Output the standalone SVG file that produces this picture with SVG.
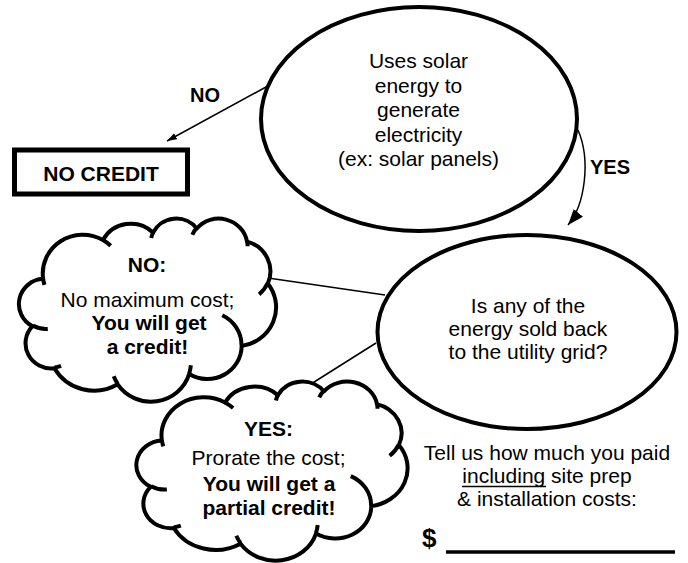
<svg xmlns="http://www.w3.org/2000/svg" width="688" height="563" viewBox="0 0 688 563">
  <defs>
    <style>
      text { font-family: "Liberation Sans", Arial, sans-serif; font-size: 21px; fill: #000; text-anchor: middle; }
      .b { font-weight: bold; }
      .label { font-weight: bold; font-size: 20px; }
      .dollar { font-weight: bold; font-size: 26px; text-anchor: start; }
      .shape { fill: #fff; stroke: #000; stroke-width: 4; }
      .cloud { fill: #fff; stroke: #000; stroke-width: 4; vector-effect: non-scaling-stroke; stroke-linejoin: round; }
      .cloud-inner { fill: none; stroke: #000; stroke-width: 4; vector-effect: non-scaling-stroke; }
      .edge { fill: none; stroke: #000; stroke-width: 1.5; }
    </style>
    <marker id="head-small" viewBox="0 0 10 7" refX="10" refY="3.5" markerWidth="10" markerHeight="7" markerUnits="userSpaceOnUse" orient="auto">
      <path d="M0,0 L10,3.5 L0,7 Z" fill="#000"/>
    </marker>
    <marker id="head-large" viewBox="0 0 16 12" refX="16" refY="6" markerWidth="16" markerHeight="12" markerUnits="userSpaceOnUse" orient="auto">
      <path d="M0,0 L16,6 L0,12 Z" fill="#000"/>
    </marker>
  </defs>

  <rect width="688" height="563" fill="#fff"/>

  <!-- connectors -->
  <g id="connectors">
    <path class="edge" d="M266,87 L167,141" marker-end="url(#head-small)"/>
    <path class="edge" d="M578,130 C591,160 585,205 568,225" marker-end="url(#head-large)"/>
    <line class="edge" x1="268" y1="278" x2="385" y2="295"/>
    <line class="edge" x1="311" y1="384" x2="376" y2="343"/>
    <text class="label" x="205" y="102">NO</text>
    <text class="label" x="610" y="174">YES</text>
  </g>

  <!-- question: solar energy -->
  <g id="node-solar">
    <ellipse class="shape" cx="419" cy="119" rx="158" ry="112"/>
    <text x="418.5" y="68">Uses solar</text>
    <text x="418.5" y="92.5">energy to</text>
    <text x="418.5" y="117">generate</text>
    <text x="418.5" y="141.5">electricity</text>
    <text x="418.5" y="166">(ex: solar panels)</text>
  </g>

  <!-- outcome: no credit -->
  <g id="node-no-credit">
    <rect x="14.5" y="150" width="173" height="44" fill="#fff" stroke="#000" stroke-width="5"/>
    <text class="b" x="101" y="180.5">NO CREDIT</text>
  </g>

  <!-- outcome cloud: full credit -->
  <g id="node-full-credit">
    <g transform="translate(20,218) scale(256,183)">
      <path class="cloud" d="M0.0903,0.3326 A0.1563,0.2127 0 0 1 0.3242,0.1204 A0.1235,0.1682 0 0 1 0.5198,0.0794 A0.1010,0.1376 0 0 1 0.6906,0.0574 A0.1124,0.1527 0 0 1 0.8870,0.1290 A0.1235,0.1684 0 0 1 0.9680,0.3578 A0.1568,0.2134 0 0 1 0.8658,0.6990 A0.1339,0.1821 0 0 1 0.6610,0.8521 A0.1563,0.2133 0 0 1 0.3815,0.9088 A0.1787,0.2441 0 0 1 0.1344,0.8210 A0.1009,0.1370 0 0 1 0.0489,0.5913 A0.1006,0.1376 0 0 1 0.0903,0.3326 Z"/>
      <path class="cloud-inner" d="M0.1086,0.6060 A0.1006,0.1376 0 0 1 0.0500,0.5875 M0.1604,0.8079 A0.1009,0.1370 0 0 1 0.1347,0.8167 M0.3814,0.9049 A0.1563,0.2133 0 0 1 0.3660,0.8646 M0.6673,0.8044 A0.1563,0.2133 0 0 1 0.6611,0.8486 M0.7900,0.5313 A0.1339,0.1821 0 0 1 0.8653,0.6965 M0.9676,0.3554 A0.1235,0.1684 0 0 1 0.9340,0.4174 M0.8871,0.1256 A0.1124,0.1527 0 0 1 0.8889,0.1549 M0.6731,0.0915 A0.1124,0.1527 0 0 1 0.6903,0.0542 M0.5125,0.1093 A0.1010,0.1376 0 0 1 0.5208,0.0771 M0.3241,0.1202 A0.1563,0.2127 0 0 1 0.3542,0.1514 M0.0955,0.3655 A0.1563,0.2127 0 0 1 0.0903,0.3327"/>
    </g>
    <text class="b" x="147" y="272">NO:</text>
    <text x="147.5" y="307">No maximum cost;</text>
    <text class="b" x="149" y="330">You will get</text>
    <text class="b" x="147.5" y="354">a credit!</text>
  </g>

  <!-- question: energy sold back -->
  <g id="node-grid">
    <ellipse class="shape" cx="527" cy="332" rx="149.5" ry="97"/>
    <text x="528" y="313">Is any of the</text>
    <text x="528" y="336">energy sold back</text>
    <text x="528" y="358.5">to the utility grid?</text>
  </g>

  <!-- outcome cloud: partial credit -->
  <g id="node-partial-credit">
    <g transform="translate(137.5,381) scale(270,179)">
      <path class="cloud" d="M0.0903,0.3326 A0.1563,0.2127 0 0 1 0.3242,0.1204 A0.1235,0.1682 0 0 1 0.5198,0.0794 A0.1010,0.1376 0 0 1 0.6906,0.0574 A0.1124,0.1527 0 0 1 0.8870,0.1290 A0.1235,0.1684 0 0 1 0.9680,0.3578 A0.1568,0.2134 0 0 1 0.8658,0.6990 A0.1339,0.1821 0 0 1 0.6610,0.8521 A0.1563,0.2133 0 0 1 0.3815,0.9088 A0.1787,0.2441 0 0 1 0.1344,0.8210 A0.1009,0.1370 0 0 1 0.0489,0.5913 A0.1006,0.1376 0 0 1 0.0903,0.3326 Z"/>
      <path class="cloud-inner" d="M0.1086,0.6060 A0.1006,0.1376 0 0 1 0.0500,0.5875 M0.1604,0.8079 A0.1009,0.1370 0 0 1 0.1347,0.8167 M0.3814,0.9049 A0.1563,0.2133 0 0 1 0.3660,0.8646 M0.6673,0.8044 A0.1563,0.2133 0 0 1 0.6611,0.8486 M0.7900,0.5313 A0.1339,0.1821 0 0 1 0.8653,0.6965 M0.9676,0.3554 A0.1235,0.1684 0 0 1 0.9340,0.4174 M0.8871,0.1256 A0.1124,0.1527 0 0 1 0.8889,0.1549 M0.6731,0.0915 A0.1124,0.1527 0 0 1 0.6903,0.0542 M0.5125,0.1093 A0.1010,0.1376 0 0 1 0.5208,0.0771 M0.3241,0.1202 A0.1563,0.2127 0 0 1 0.3542,0.1514 M0.0955,0.3655 A0.1563,0.2127 0 0 1 0.0903,0.3327"/>
    </g>
    <text class="b" x="268.5" y="436">YES:</text>
    <text x="268.5" y="465">Prorate the cost;</text>
    <text class="b" x="269" y="490.5">You will get a</text>
    <text class="b" x="269" y="515">partial credit!</text>
  </g>

  <!-- cost entry -->
  <g id="cost-entry">
    <text x="547" y="460">Tell us how much you paid</text>
    <text x="547" y="483">including site prep</text>
    <line x1="462" y1="486.5" x2="546" y2="486.5" stroke="#000" stroke-width="1.5"/>
    <text x="547" y="506">&amp; installation costs:</text>
    <text class="dollar" x="422" y="547">$</text>
    <line x1="446" y1="552" x2="675" y2="552" stroke="#000" stroke-width="3.5"/>
  </g>
</svg>
